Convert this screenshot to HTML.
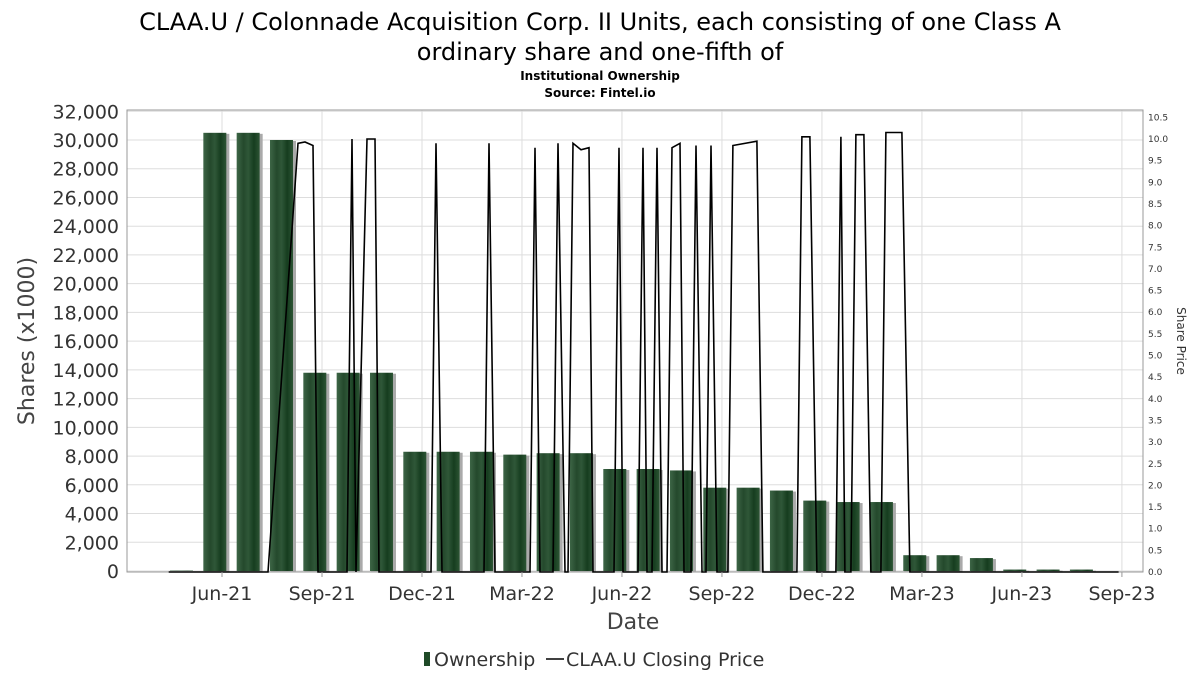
<!DOCTYPE html>
<html><head><meta charset="utf-8"><style>
body{margin:0;background:#fff;font-family:"DejaVu Sans","Liberation Sans",sans-serif;}
</style></head><body>
<svg width="1200" height="675" xmlns="http://www.w3.org/2000/svg" font-family="DejaVu Sans, Liberation Sans, sans-serif">
<defs>
<linearGradient id="bg" x1="0" x2="1" y1="0" y2="0">
<stop offset="0" stop-color="#3d6546"/><stop offset="0.3" stop-color="#24492c"/><stop offset="0.5" stop-color="#2f5738"/><stop offset="0.75" stop-color="#163d1f"/><stop offset="1" stop-color="#2c5434"/>
</linearGradient>
</defs>
<text x="600" y="30" font-size="24" text-anchor="middle">CLAA.U / Colonnade Acquisition Corp. II Units, each consisting of one Class A</text>
<text x="600" y="60" font-size="24" text-anchor="middle">ordinary share and one-fifth of</text>
<text x="600" y="80" font-size="12" font-weight="bold" text-anchor="middle">Institutional Ownership</text>
<text x="600" y="97" font-size="12" font-weight="bold" text-anchor="middle">Source: Fintel.io</text>
<g id="grid"></g>
<rect x="127" y="110" width="1016" height="462" fill="none" stroke="#999"/>
<g id="bars"></g>
<path id="price" fill="none" stroke="#000" stroke-width="1.6"/>
<g id="axes" font-size="19" fill="#333"></g>
<text transform="translate(34,341) rotate(-90)" font-size="22" fill="#444" text-anchor="middle">Shares (x1000)</text>
<text transform="translate(1177,341) rotate(90)" font-size="12" fill="#333" text-anchor="middle">Share Price</text>
<text x="633" y="629" font-size="22" fill="#444" text-anchor="middle">Date</text>
<g>
<rect x="424" y="652" width="6" height="14" fill="#1f4a27"/>
<text x="434" y="666" font-size="19" fill="#333">Ownership</text>
<line x1="546" y1="659" x2="564" y2="659" stroke="#000" stroke-width="1.5"/>
<text x="566" y="666" font-size="19" fill="#333">CLAA.U Closing Price</text>
</g>
</svg>
<script>
const barMonths=[-1.2,-0.2,0.8,1.8,2.8,3.8,4.8,5.8,6.8,7.8,8.8,9.8,10.8,11.8,12.8,13.8,14.8,15.8,16.8,17.8,18.8,19.8,20.8,21.8,22.8,23.8,24.8,25.8];
const barValues=[30,30500,30500,30000,13800,13800,13800,8300,8300,8300,8100,8200,8200,7100,7100,7000,5800,5800,5600,4900,4800,4800,1100,1100,900,100,100,100];
const priceMonths=[-1.6,1.38,2.28,2.49,2.73,2.88,3.75,3.9,4.02,4.35,4.59,4.71,6.27,6.42,6.6,7.86,8.01,8.19,9.24,9.39,9.54,9.93,10.08,10.29,10.38,10.53,10.77,11.01,11.13,11.76,11.91,12.03,12.48,12.63,12.75,12.9,13.05,13.2,13.35,13.5,13.74,13.86,14.07,14.22,14.4,14.52,14.67,14.85,15.18,15.33,16.05,16.23,17.25,17.4,17.64,17.85,18.42,18.57,18.69,18.87,19.02,19.26,19.47,19.77,19.92,20.4,20.64,26.9];
const priceValues=[0,0,9.9,9.93,9.85,0,0,10,0,10,10,0,0,9.9,0,0,9.9,0,0,9.8,0,0,9.9,0,0,9.9,9.75,9.8,0,0,9.8,0,0,9.8,0,0,9.8,0,0,9.8,9.9,0,0,9.85,0,0,9.85,0,0,9.85,9.95,0,0,10.05,10.05,0,0,10.05,0,0,10.1,10.1,0,0,10.15,10.15,0,0];
const xTickLabels=["Jun-21","Sep-21","Dec-21","Mar-22","Jun-22","Sep-22","Dec-22","Mar-23","Jun-23","Sep-23"];
const xTickMonths=[0,3,6,9,12,15,18,21,24,27];
const yTicks=[0,2000,4000,6000,8000,10000,12000,14000,16000,18000,20000,22000,24000,26000,28000,30000,32000];
const y2Ticks=[0,0.5,1,1.5,2,2.5,3,3.5,4,4.5,5,5.5,6,6.5,7,7.5,8,8.5,9,9.5,10,10.5];
const NS="http://www.w3.org/2000/svg";
const X=m=>222+m*33.33;
const Y=v=>571-v*(431/30000);
const Y2=v=>572-v*(433/10);
function mk(t,a,p){const e=document.createElementNS(NS,t);for(const k in a)e.setAttribute(k,a[k]);p.appendChild(e);return e;}
const grid=document.getElementById('grid'),axes=document.getElementById('axes'),bars=document.getElementById('bars');
yTicks.forEach(v=>{
 const l=mk('line',{x1:127,x2:1143,y1:Y(v),y2:Y(v),stroke:'#ddd'},grid);
 
 
 const t=mk('text',{x:119,y:Y(v)+7,'text-anchor':'end'},axes);
 
 
 t.textContent=v.toLocaleString('en-US');
});
y2Ticks.forEach(v=>{
 const t=mk('text',{x:1148,y:Y2(v)+3,'font-size':9},axes);
 
 
 t.textContent=v.toFixed(1);
});
xTickMonths.forEach((m,i)=>{
 const l=mk('line',{x1:X(m),x2:X(m),y1:110,y2:572,stroke:'#ddd'},grid);
 
 
 const tk=mk('line',{x1:X(m),x2:X(m),y1:572,y2:577,stroke:'#999'},axes);
 
 
 const t=mk('text',{x:X(m),y:600,'text-anchor':'middle'},axes);
 
 
 t.textContent=xTickLabels[i];
});
barMonths.forEach((m,i)=>{
 const cx=X(m),top=Y(barValues[i]),h=571-top;
 const s=mk('rect',{x:cx-11,y:top+1,width:25,height:h,fill:'#aaa'},bars);
 
 
 const r=mk('rect',{x:cx-12,y:top,width:23,height:h,fill:'url(#bg)'},bars);
 
 
});
document.getElementById('price').setAttribute('d',priceMonths.map((m,i)=>(i?'L':'M')+X(m).toFixed(1)+','+Y2(priceValues[i]).toFixed(1)).join(''));
</script>
</body></html>
